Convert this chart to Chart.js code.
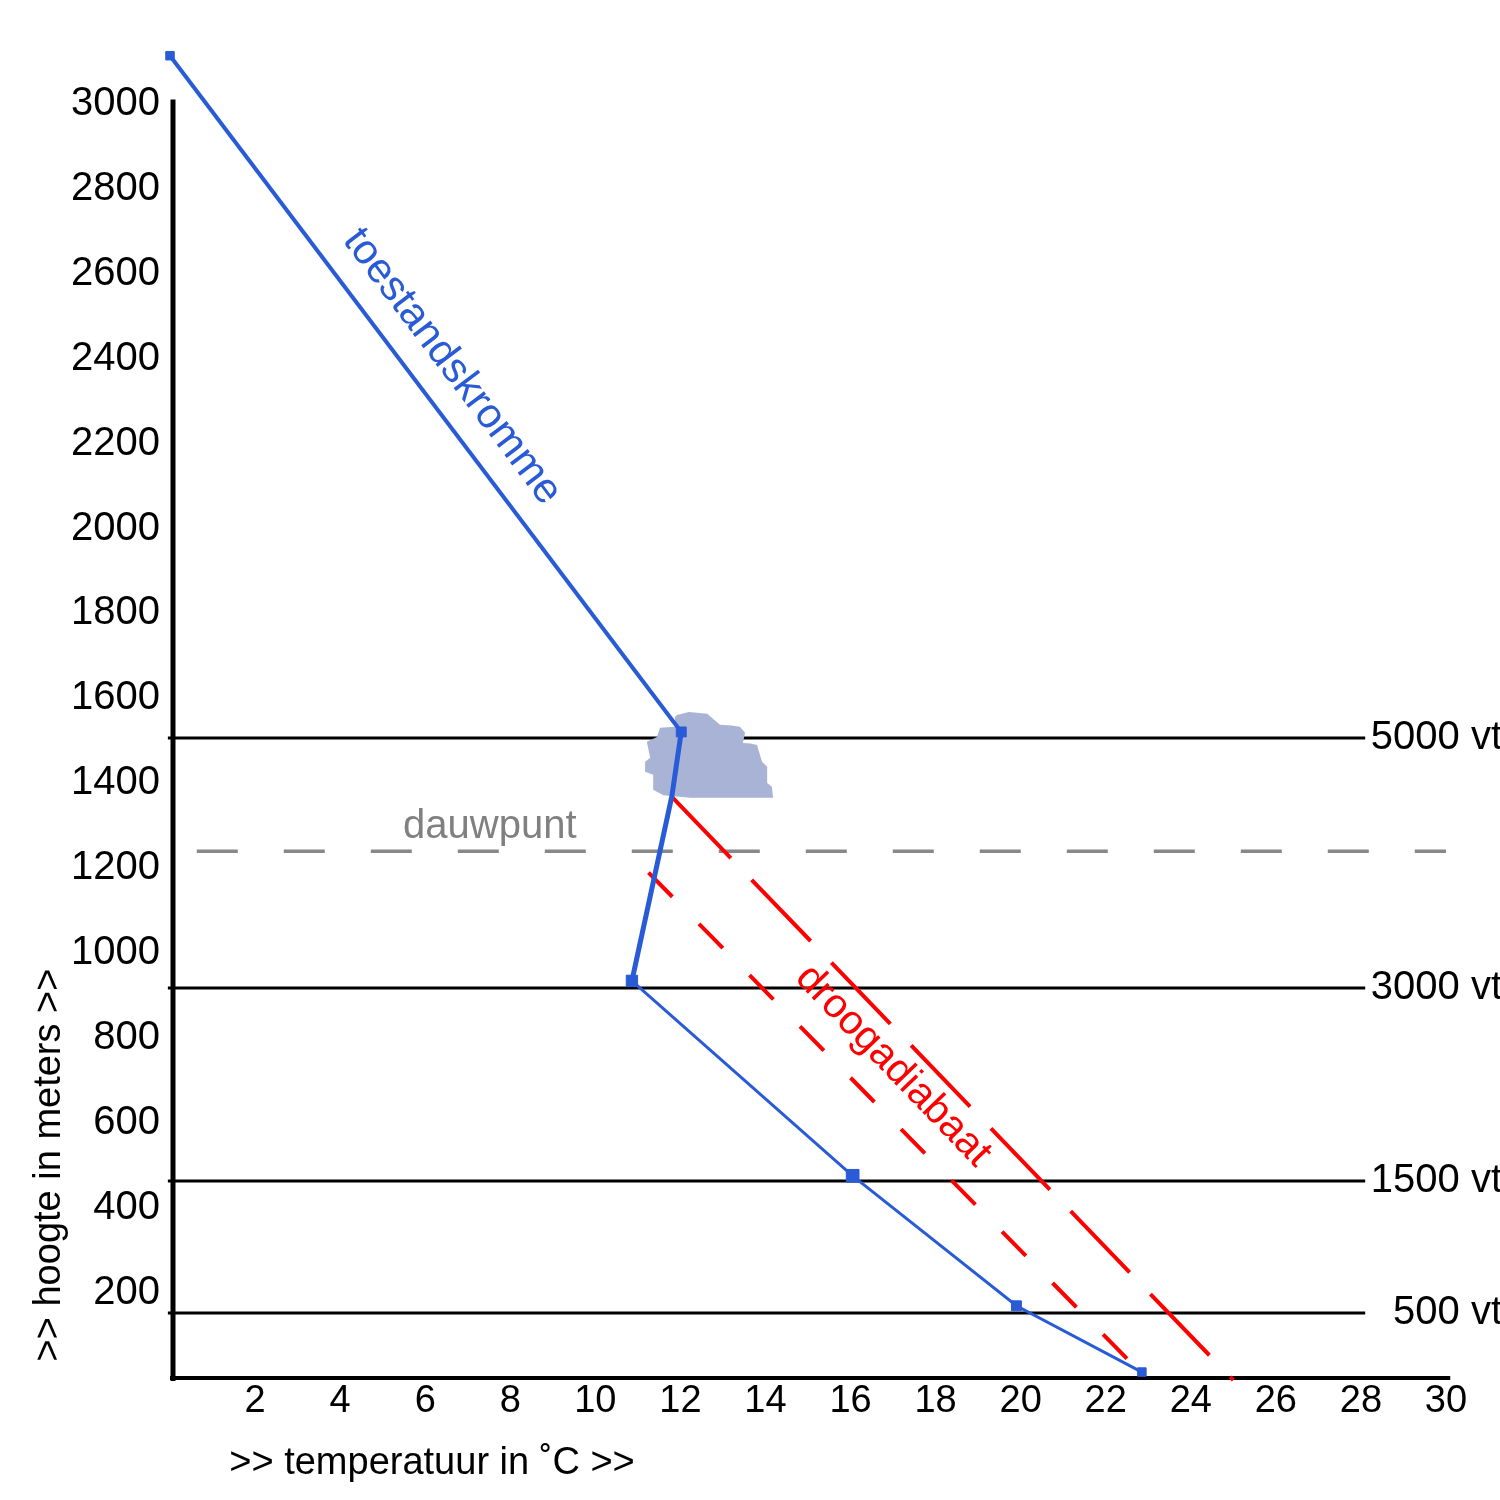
<!DOCTYPE html>
<html>
<head>
<meta charset="utf-8">
<script src="https://cdn.jsdelivr.net/npm/chart.js@4.4.1/dist/chart.umd.min.js"></script>
<style>
html, body { margin: 0; padding: 0; background: #fff; }
canvas { display: block; }
</style>
</head>
<body>
<canvas id="c" width="1500" height="1500"></canvas>
<script>
// toestandskromme: temperatuur (°C) en hoogte (m)
const kromTemp = [22.85, 19.9, 16.05, 10.86, 11.8, 12.02, 0];
const kromHoogte = [14, 170, 476, 935, 1370, 1521, 3113];
const kromMarker = [6, 7, 9, 8, 0, 7, 6];

// droogadiabaten
const adiabaatATemp = [11.25, 22.9];
const adiabaatAHoogte = [1190, 5];
const adiabaatBTemp = [11.8, 25];
const adiabaatBHoogte = [1368, -5];

// dauwpunt niveau
const dauwpuntTemp = [0.63, 30];
const dauwpuntHoogte = 1240;

// hoogtes in voet
const vlakLabels = ['5000 vt', '3000 vt', '1500 vt', '500 vt'];
const vlakHoogte = [1507, 918, 464, 153];
const vlakTemp = [-0.05, 28.1];

// wolk
const wolkTemp = [11.92, 12.2, 12.63, 12.93, 13.2, 13.40, 13.52, 13.47, 13.65, 13.80, 13.92, 14.04, 14.04, 14.15, 14.18,
    12.23, 11.6, 11.36, 11.36, 11.17, 11.17, 11.29, 11.21, 11.45, 11.52, 11.87, 11.87, 11.92];
const wolkHoogte = [1561, 1568, 1564, 1538, 1536, 1533, 1519, 1495, 1494, 1490, 1451, 1439, 1401, 1392, 1366,
    1366, 1372, 1385, 1420, 1427, 1451, 1460, 1498, 1509, 1531, 1533, 1556, 1561];

const xTickValues = [2, 4, 6, 8, 10, 12, 14, 16, 18, 20, 22, 24, 26, 28, 30];
const yTickValues = [200, 400, 600, 800, 1000, 1200, 1400, 1600, 1800, 2000, 2200, 2400, 2600, 2800, 3000];

const BLUE = '#2a5bd7';
const RED = '#ff0000';
const FONT = "'Liberation Sans', Arial, sans-serif";

const toPoints = (xs, ys) => xs.map((v, i) => ({ x: v, y: Array.isArray(ys) ? ys[i] : ys }));

const datasets = [
    {
        label: 'toestandskromme',
        data: toPoints(kromTemp, kromHoogte),
        borderColor: BLUE,
        backgroundColor: BLUE,
        pointBorderColor: BLUE,
        pointBackgroundColor: BLUE,
        pointStyle: 'rect',
        pointRadius: kromMarker,
        segment: {
            borderWidth: c => (c.p0DataIndex === 3 || c.p0DataIndex === 4) ? 5 : (c.p0DataIndex === 5 ? 4 : 3)
        }
    },
    {
        label: 'droogadiabaat A',
        data: toPoints(adiabaatATemp, adiabaatAHoogte),
        borderColor: RED,
        borderWidth: 4,
        borderDash: [34, 38],
        pointRadius: 0
    },
    {
        label: 'droogadiabaat B',
        data: toPoints(adiabaatBTemp, adiabaatBHoogte),
        borderColor: RED,
        borderWidth: 4,
        borderDash: [85, 30],
        pointRadius: 0
    },
    {
        label: 'wolk',
        data: toPoints(wolkTemp, wolkHoogte),
        borderWidth: 0,
        borderColor: 'rgba(0,0,0,0)',
        backgroundColor: '#a9b3d5',
        fill: 'shape',
        pointRadius: 0
    },
    {
        label: 'dauwpunt',
        data: toPoints(dauwpuntTemp, dauwpuntHoogte),
        borderColor: '#888888',
        borderWidth: 3.5,
        borderDash: [41, 46],
        pointRadius: 0
    }
];

vlakHoogte.forEach((h, i) => {
    datasets.push({
        label: vlakLabels[i],
        data: toPoints(vlakTemp, h),
        borderColor: '#000',
        borderWidth: 3,
        pointRadius: 0
    });
});
datasets.forEach(d => { d.clip = false; });

const extras = {
    id: 'extras',
    beforeDatasetsDraw(chart) {
        const { ctx, scales: { x, y } } = chart;
        ctx.save();
        ctx.strokeStyle = '#000';
        ctx.lineWidth = 5;
        ctx.beginPath();
        ctx.moveTo(x.getPixelForValue(0) + 3, y.getPixelForValue(3010));
        ctx.lineTo(x.getPixelForValue(0) + 3, y.getPixelForValue(0) + 3);
        ctx.stroke();
        ctx.lineWidth = 4;
        ctx.beginPath();
        ctx.moveTo(x.getPixelForValue(0), y.getPixelForValue(0));
        ctx.lineTo(x.getPixelForValue(30.1), y.getPixelForValue(0));
        ctx.stroke();
        ctx.restore();
    },
    afterDatasetsDraw(chart) {
        const { ctx, scales: { x, y } } = chart;
        ctx.save();

        // hoogte labels rechts
        ctx.fillStyle = '#000';
        ctx.font = '40px ' + FONT;
        ctx.textAlign = 'right';
        ctx.textBaseline = 'middle';
        vlakLabels.forEach((t, i) => ctx.fillText(t, 1502, y.getPixelForValue(vlakHoogte[i])));

        // dauwpunt
        ctx.fillStyle = '#808080';
        ctx.font = '40px ' + FONT;
        ctx.textAlign = 'center';
        ctx.textBaseline = 'alphabetic';
        ctx.fillText('dauwpunt', x.getPixelForValue(7.52), y.getPixelForValue(dauwpuntHoogte) - 13);

        // toestandskromme
        let a = Math.atan2(y.getPixelForValue(1521) - y.getPixelForValue(3113),
            x.getPixelForValue(12.02) - x.getPixelForValue(0));
        ctx.save();
        ctx.translate(x.getPixelForValue(6.63), y.getPixelForValue(2381));
        ctx.rotate(a);
        ctx.fillStyle = BLUE;
        ctx.font = '42px ' + FONT;
        ctx.textBaseline = 'middle';
        ctx.fillText('toestandskromme', 0, 0);
        ctx.restore();

        // droogadiabaat
        a = Math.atan2(y.getPixelForValue(adiabaatBHoogte[1]) - y.getPixelForValue(adiabaatBHoogte[0]),
            x.getPixelForValue(adiabaatBTemp[1]) - x.getPixelForValue(adiabaatBTemp[0]));
        ctx.save();
        ctx.translate(x.getPixelForValue(17.0), y.getPixelForValue(735));
        ctx.rotate(a);
        ctx.fillStyle = RED;
        ctx.font = '41px ' + FONT;
        ctx.textBaseline = 'middle';
        ctx.fillText('droogadiabaat', 0, 0);
        ctx.restore();

        // as titels
        ctx.fillStyle = '#000';
        ctx.font = '38px ' + FONT;
        ctx.textAlign = 'center';
        ctx.textBaseline = 'alphabetic';
        ctx.fillText('>> temperatuur in ˚C >>', 432, 1474);
        ctx.save();
        ctx.translate(60, 1165);
        ctx.rotate(-Math.PI / 2);
        ctx.fillText('>> hoogte in meters >>', 0, 0);
        ctx.restore();

        ctx.restore();
    }
};

new Chart(document.getElementById('c'), {
    type: 'line',
    data: { datasets },
    options: {
        responsive: false,
        animation: false,
        events: [],
        layout: { padding: { top: 40, right: 54, left: 0, bottom: 0 } },
        scales: {
            x: {
                type: 'linear',
                min: 0,
                max: 30,
                grid: { display: false, drawTicks: false },
                border: { display: false },
                afterBuildTicks: s => { s.ticks = xTickValues.map(v => ({ value: v })); },
                afterFit: s => { s.height = 122; },
                ticks: {
                    color: '#000',
                    font: { family: FONT, size: 38 },
                    padding: 1,
                    maxRotation: 0,
                    autoSkip: false,
                    callback: v => String(v)
                }
            },
            y: {
                type: 'linear',
                min: 0,
                max: 3150,
                grid: { display: false, drawTicks: false },
                border: { display: false },
                afterBuildTicks: s => { s.ticks = yTickValues.map(v => ({ value: v })); },
                afterFit: s => { s.width = 170; },
                ticks: {
                    color: '#000',
                    font: { family: FONT, size: 40 },
                    padding: 10,
                    autoSkip: false,
                    callback: v => String(v)
                }
            }
        },
        plugins: {
            legend: { display: false },
            tooltip: { enabled: false }
        }
    },
    plugins: [extras]
});
</script>
</body>
</html>
